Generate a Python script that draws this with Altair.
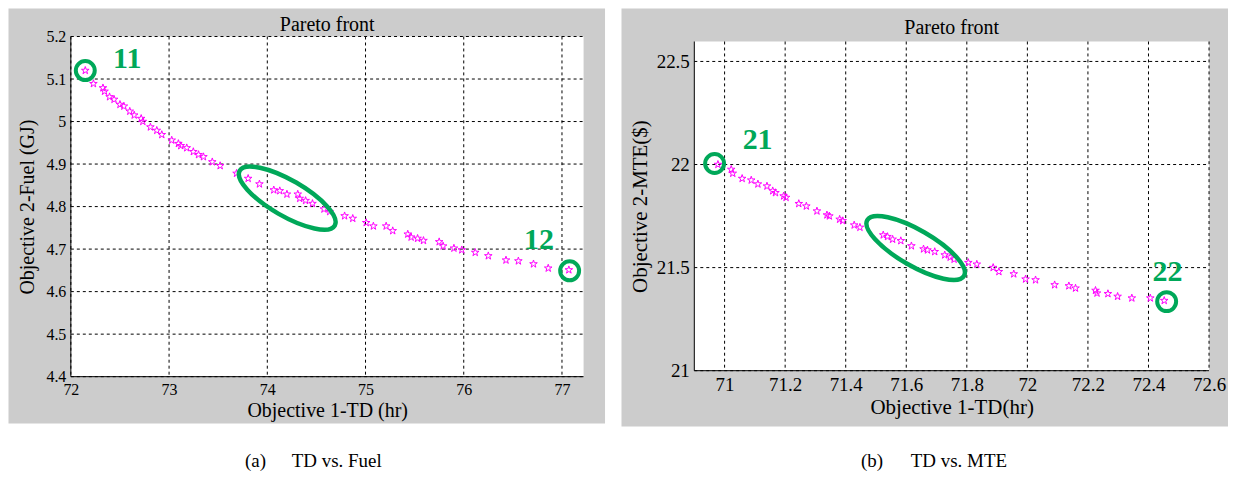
import altair as alt
import pandas as pd

# ---------------- data ----------------
fuel_td = [72.147, 72.23, 72.327, 72.343, 72.394, 72.44, 72.50, 72.54, 72.60, 72.645,
           72.716, 72.733, 72.81, 72.875, 72.926, 73.027, 73.095, 73.119, 73.18, 73.247,
           73.30, 73.35, 73.44, 73.52, 73.687, 73.805, 73.92, 74.066, 74.127, 74.20,
           74.31, 74.33, 74.39, 74.46, 74.577, 74.635, 74.787, 74.87, 75.007, 75.08,
           75.21, 75.277, 75.43, 75.464, 75.53, 75.59, 75.75, 75.79, 75.90, 75.98,
           76.117, 76.25, 76.43, 76.556, 76.71, 76.86, 77.07]
fuel_gj = [5.12, 5.089, 5.079, 5.071, 5.058, 5.052, 5.04, 5.036, 5.024, 5.015,
           5.007, 5.0, 4.987, 4.979, 4.969, 4.956, 4.948, 4.943, 4.938, 4.929,
           4.922, 4.917, 4.905, 4.896, 4.878, 4.866, 4.853, 4.839, 4.837, 4.829,
           4.829, 4.819, 4.814, 4.807, 4.794, 4.788, 4.778, 4.772, 4.762, 4.754,
           4.754, 4.743, 4.735, 4.728, 4.725, 4.72, 4.717, 4.707, 4.702, 4.698,
           4.692, 4.684, 4.674, 4.672, 4.665, 4.655, 4.651]

mte_td = [70.978, 71.022, 71.027, 71.058, 71.088, 71.11, 71.14, 71.159, 71.168, 71.195,
          71.203, 71.245, 71.27, 71.305, 71.338, 71.346, 71.38, 71.39, 71.428, 71.447,
          71.524, 71.538, 71.555, 71.582, 71.617, 71.657, 71.67, 71.694, 71.727, 71.745,
          71.758, 71.805, 71.833, 71.887, 71.906, 71.955, 71.994, 72.027, 72.09, 72.137,
          72.159, 72.225, 72.23, 72.266, 72.298, 72.345, 72.406, 72.452]
mte_usd = [22.0, 21.976, 21.957, 21.932, 21.924, 21.905, 21.895, 21.872, 21.863, 21.847,
           21.84, 21.81, 21.798, 21.774, 21.755, 21.75, 21.734, 21.727, 21.706, 21.695,
           21.658, 21.65, 21.637, 21.63, 21.605, 21.59, 21.585, 21.577, 21.561, 21.55,
           21.54, 21.524, 21.516, 21.5, 21.48, 21.469, 21.444, 21.44, 21.416, 21.411,
           21.4, 21.389, 21.376, 21.373, 21.36, 21.352, 21.352, 21.34]

# annotations (data coordinates)
a_circle_x = [72.147, 77.078]
a_circle_y = [5.12, 4.649]
a_label_text = ["11", "12"]
a_label_x = [72.574, 76.766]
a_label_y = [5.148, 4.721]
a_ellipse_x = [74.203]
a_ellipse_y = [4.82]

b_circle_x = [70.967, 72.46]
b_circle_y = [22.005, 21.335]
b_label_text = ["21", "22"]
b_label_x = [71.109, 72.463]
b_label_y = [22.118, 21.479]
b_ellipse_x = [71.631]
b_ellipse_y = [21.595]

a_xticks = [72, 73, 74, 75, 76, 77]
a_yticks = [4.4, 4.5, 4.6, 4.7, 4.8, 4.9, 5.0, 5.1, 5.2]
b_xticks = [71, 71.2, 71.4, 71.6, 71.8, 72, 72.2, 72.4, 72.6]
b_yticks = [21, 21.5, 22, 22.5]

panel_title = "Pareto front"

# ---------------- styling ----------------
FONT = "Liberation Serif"
GREY = "#CCCCCC"
GREEN = "#00A859"
MAGENTA = "#FF00FF"
STAR = ("M0,-1L0.225,-0.309L0.951,-0.309L0.363,0.118L0.588,0.809L0,0.382"
        "L-0.588,0.809L-0.363,0.118L-0.951,-0.309L-0.225,-0.309Z")


def ellipse_path(r):
    k = 0.5523
    return (f"M1,0C1,{k*r:.4f},{k:.4f},{r:.4f},0,{r:.4f}"
            f"C{-k:.4f},{r:.4f},-1,{k*r:.4f},-1,0"
            f"C-1,{-k*r:.4f},{-k:.4f},{-r:.4f},0,{-r:.4f}"
            f"C{k:.4f},{-r:.4f},1,{-k*r:.4f},1,0Z")


def axis(values, title, lab_size, title_size, orient, title_x=None, title_y=None):
    kw = dict(values=values, format="~g", grid=False, domain=False, ticks=False,
              labelFont=FONT, labelFontSize=lab_size, labelColor="black",
              labelFlush=False, labelOverlap=False, labelPadding=5,
              title=title, titleFont=FONT, titleFontSize=title_size,
              titleFontWeight="normal", titleColor="black", zindex=1,
              titleBaseline="alphabetic")
    if orient == "left":
        kw.update(titleAngle=270, titleX=title_x, titleY=title_y, titleAlign="center")
    else:
        kw.update(titleY=title_y, titleAlign="center")
    return alt.Axis(**kw)


def panel(xs, ys, cx, cy, lt, lx, ly, ex, ey, xdom, ydom, xticks, yticks,
          xtitle, ytitle, w, h, top, grey_box, lab_size, title_size, ytx, xty,
          ell_r, ell_size, title_base, captions, cap_y, cap_size):
    pts = pd.DataFrame({"x": xs, "y": ys})
    xs_ = alt.Scale(domain=xdom, nice=False, zero=False)
    ys_ = alt.Scale(domain=ydom, nice=False, zero=False)
    ax_x = axis(xticks, xtitle, lab_size, title_size, "bottom", title_y=xty)
    ax_y = axis(yticks, ytitle, lab_size, title_size, "left", title_x=ytx,
                title_y=(top + h) / 2)

    def X(f):
        return alt.X(f, scale=xs_, axis=ax_x)

    def Y(f):
        return alt.Y(f, scale=ys_, axis=ax_y)

    dummy = pd.DataFrame({"a": [0]})
    gx1, gx2, gy1, gy2 = grey_box
    grey = alt.Chart(dummy).mark_rect(color=GREY).encode(
        x=alt.value(gx1), x2=alt.value(gx2), y=alt.value(gy1), y2=alt.value(gy2))
    white = alt.Chart(dummy).mark_rect(color="white").encode(
        x=alt.value(0), x2=alt.value(w), y=alt.value(top), y2=alt.value(h))
    vgrid = alt.Chart(pd.DataFrame({"x": xticks})).mark_rule(
        color="black", strokeWidth=1, strokeDash=[3, 3]).encode(
        x=X("x:Q"), y=alt.value(top), y2=alt.value(h))
    hgrid = alt.Chart(pd.DataFrame({"y": yticks})).mark_rule(
        color="black", strokeWidth=1, strokeDash=[3, 3]).encode(
        y=Y("y:Q"), x=alt.value(0), x2=alt.value(w))
    left_line = alt.Chart(dummy).mark_rule(color="black", strokeWidth=1).encode(
        x=alt.value(0), y=alt.value(top), y2=alt.value(h))
    bottom_line = alt.Chart(dummy).mark_rule(color="black", strokeWidth=1).encode(
        x=alt.value(0), x2=alt.value(w), y=alt.value(h))
    stars = alt.Chart(pts).mark_point(shape=STAR, filled=False, color=MAGENTA,
                                      strokeWidth=1, size=64, opacity=1).encode(
        x=X("x:Q"), y=Y("y:Q"))
    circ = alt.Chart(pd.DataFrame({"x": cx, "y": cy})).mark_point(
        shape="circle", filled=False, color=GREEN, strokeWidth=4, size=361, opacity=1).encode(
        x=X("x:Q"), y=Y("y:Q"))
    ell = alt.Chart(pd.DataFrame({"x": ex, "y": ey})).mark_point(
        shape=ellipse_path(ell_r), filled=False, color=GREEN, strokeWidth=4.5,
        size=ell_size, angle=30, opacity=1).encode(
        x=X("x:Q"), y=Y("y:Q"))
    labs = alt.Chart(pd.DataFrame({"x": lx, "y": ly, "t": lt})).mark_text(
        font=FONT, fontSize=30, fontWeight="bold", color=GREEN, baseline="middle",
        align="center").encode(
        x=X("x:Q"), y=Y("y:Q"), text="t:N")
    ttl = alt.Chart(pd.DataFrame({"t": [panel_title]})).mark_text(
        font=FONT, fontSize=20, color="black", align="center", baseline="alphabetic").encode(
        x=alt.value(w / 2), y=alt.value(title_base), text="t:N")
    layers = [grey, white, vgrid, hgrid, left_line, bottom_line, stars, circ, ell, labs, ttl]
    for txt, px in captions:
        layers.append(alt.Chart(pd.DataFrame({"t": [txt]})).mark_text(
            font=FONT, fontSize=cap_size, color="black", align="left",
            baseline="alphabetic").encode(
            x=alt.value(px), y=alt.value(cap_y), text="t:N"))
    return alt.layer(*layers).properties(width=w, height=h)


# panel A: plot area 514 x 341, origin at page (70.5, 36)
A = panel(fuel_td, fuel_gj, a_circle_x, a_circle_y, a_label_text, a_label_x, a_label_y,
          a_ellipse_x, a_ellipse_y, [72, 77.22], [4.4, 5.2], a_xticks, a_yticks,
          "Objective 1-TD (hr)", "Objective 2-Fuel (GJ)", 514, 341, 0,
          (-62.5, 535.5, -28, 388), 16, 20, -37.5, 40, 0.327, 12100, -6,
          [("(a)", 174.5), ("TD vs. Fuel", 221.5)], 432, 19)

# panel B: shares the same origin row; the visible plot starts 5 px lower
B = panel(mte_td, mte_usd, b_circle_x, b_circle_y, b_label_text, b_label_x, b_label_y,
          b_ellipse_x, b_ellipse_y, [70.9, 72.6], [21, 22.621], b_xticks, b_yticks,
          "Objective 1-TD(hr)", "Objective 2-MTE($)", 516, 335, 5,
          (-73, 535, -28, 391), 19, 21, -48, 43, 0.321, 12544, -3,
          [("(b)", 167), ("TD vs. MTE", 217)], 432, 19)

chart = alt.hconcat(A, B, spacing=16).properties(padding=0, background="white").configure_view(
    stroke=None).configure_axis(labelFont=FONT, titleFont=FONT)

chart.save("out.html", embed_options={"renderer": "svg", "actions": False})
